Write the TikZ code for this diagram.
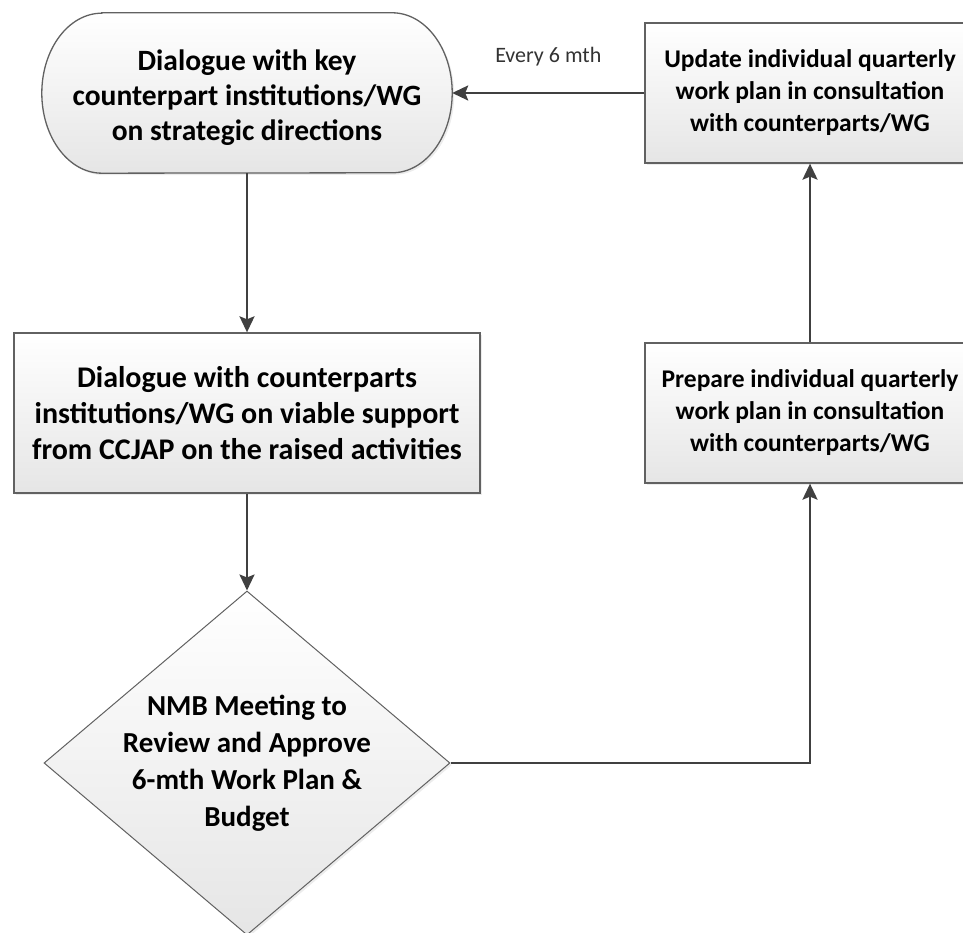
\documentclass[tikz,border=0pt]{standalone}
\usepackage{fontspec}
\setmainfont{Carlito}
\usetikzlibrary{arrows.meta,shapes.geometric,shadows,backgrounds}
\begin{document}
\begin{tikzpicture}[x=1pt,y=1pt,
  shapefill/.style={draw=black!62, line width=1.3pt, top color=white, bottom color=black!10,
    drop shadow={opacity=0.15, shadow xshift=2pt, shadow yshift=-2pt}},
  txt/.style={font=\bfseries, align=center, inner sep=0pt},
  termtxt/.style={txt, font=\fontsize{29.5}{35}\selectfont\bfseries},
  bigtxt/.style={txt, font=\fontsize{30}{36}\selectfont\bfseries},
  smalltxt/.style={txt, font=\fontsize{25.5}{32}\selectfont\bfseries},
  boxnode/.style={shapefill, rectangle, inner sep=0pt},
  conn/.style={draw=black!75, line width=2.4pt, -{Stealth[length=16pt,width=15pt,inset=3pt]}}]
\useasboundingbox (0,0) rectangle (963,933);

% terminator (text node, outline drawn behind)
\node[termtxt, rectangle, minimum width=410pt, minimum height=160pt] (term) at (247,840) {};
\node[termtxt] (termtext) at ([yshift=-5pt]term.center)
  {Dialogue with key\\counterpart institutions/WG\\on strategic directions};
\begin{scope}[on background layer]
\path[shapefill] ([xshift=60pt]term.north west) -- ([xshift=-60pt]term.north east)
  arc[start angle=90, end angle=-90, x radius=60pt, y radius=80pt]
  -- ([xshift=60pt]term.south west)
  arc[start angle=270, end angle=90, x radius=60pt, y radius=80pt] -- cycle;
\end{scope}

% second box
\node[boxnode, bigtxt, minimum width=466pt, minimum height=160pt] (box2) at (247,520)
  {Dialogue with counterparts\\institutions/WG on viable support\\from CCJAP on the raised activities};

% diamond
\node[diamond, shapefill, line width=1pt, inner sep=0pt, minimum width=406pt, minimum height=344pt] (nmb) at (247,170) {};
\node[txt, font=\fontsize{29}{37}\selectfont\bfseries] (nmbtext) at (nmb.center)
  {NMB Meeting to\\Review and Approve\\6-mth Work Plan \&\\Budget};

% right boxes
\node[boxnode, smalltxt, minimum width=330pt, minimum height=140pt] (update) at (810,840)
  {Update individual quarterly\\work plan in consultation\\with counterparts/WG};
\node[boxnode, smalltxt, minimum width=330pt, minimum height=140pt] (prep) at (810,520)
  {Prepare individual quarterly\\work plan in consultation\\with counterparts/WG};

% connectors
\draw[conn] (update.west) -- node[above=22pt, font=\fontsize{22}{24}\selectfont, text=black!80] (lbl) {Every 6 mth} (term.east);
\draw[conn] (term.south) -- (box2.north);
\draw[conn] (box2.south) -- (nmb.north);
\draw[conn] (nmb.east) -| (prep.south);
\draw[conn] (prep.north) -- (update.south);
\end{tikzpicture}
\end{document}
